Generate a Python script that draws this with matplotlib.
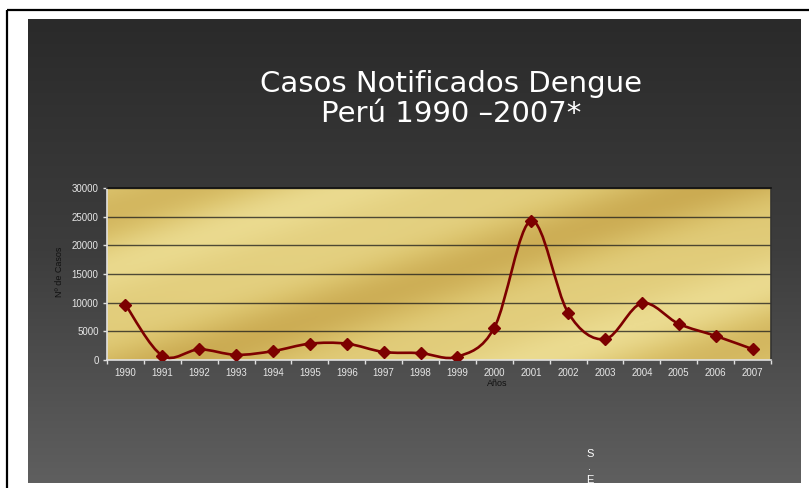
import numpy as np
import matplotlib
matplotlib.use("Agg")
import matplotlib.pyplot as plt
from matplotlib.path import Path
from matplotlib.patches import PathPatch
from matplotlib.colors import LinearSegmentedColormap

# datos: casos notificados de dengue, Peru 1990-2007
anios = ['1990', '1991', '1992', '1993', '1994', '1995', '1996', '1997', '1998',
         '1999', '2000', '2001', '2002', '2003', '2004', '2005', '2006', '2007']
casos = [9650, 750, 1850, 900, 1550, 2850, 2850, 1400, 1200,
         580, 5650, 24300, 8250, 3650, 9900, 6300, 4200, 1900]

titulo = 'Casos Notificados Dengue\nPerú 1990 \u20132007*'
y_ticks = [0, 5000, 10000, 15000, 20000, 25000, 30000]

W, H = 809, 488
fig = plt.figure(figsize=(W / 100, H / 100), dpi=100)
fig.patch.set_facecolor('white')

# ---- fondo de la diapositiva ----
bg = fig.add_axes([0, 0, 1, 1])
bg.set_xlim(0, W)
bg.set_ylim(H, 0)
bg.axis('off')
grad = np.linspace(0, 1, 256).reshape(-1, 1)
cm_bg = LinearSegmentedColormap.from_list('bg', ['#2a2a2a', '#3d3d3d', '#5f5f5f'])
bg.imshow(grad, cmap=cm_bg, aspect='auto', extent=(28, 801, 483, 19), zorder=1)
bg.plot([7, W], [10, 10], color='black', lw=1.6, zorder=2, solid_capstyle='butt')
bg.plot([7, 7], [10, H], color='black', lw=1.6, zorder=2, solid_capstyle='butt')
bg.text(451, 99, titulo, color='white', fontsize=21, ha='center', va='center',
        linespacing=1.05, family='DejaVu Sans', zorder=3)
bg.text(590, 467, 'S\n.\nE', color='white', fontsize=8, ha='center', va='center',
        linespacing=1.35, family='Liberation Sans', zorder=3)
bg.text(60, 272, 'Nº de Casos', color='#111111', fontsize=6.5, rotation=90,
        ha='center', va='center', family='Liberation Sans', zorder=3)
bg.text(497, 384, 'Años', color='#111111', fontsize=6.5, ha='center', va='center',
        family='Liberation Sans', zorder=3)

# ---- area de grafico ----
x0, x1, y0, y1 = 107, 771, 188, 360
ax = fig.add_axes([x0 / W, (H - y1) / H, (x1 - x0) / W, (y1 - y0) / H])
ax.set_facecolor('none')
n = len(anios)
xs = np.arange(n)
ax.set_xlim(-0.5, n - 0.5)
ax.set_ylim(0, 30000)

# textura dorada, franjas diagonales que suben hacia la derecha
gx, gy = np.meshgrid(np.linspace(0, 1, 400), np.linspace(0, 1, 120))
u = gy - 1.29 * gx
tex = (0.55 * np.cos(u * 5.6 - 2.2) + 0.2 * np.sin(u * 13.0 + 0.4)
       + 0.35 * gy * (1 - gx) + 0.3 * (1 - gy) * gx)
tex = (tex - tex.min()) / (tex.max() - tex.min())
cm_gold = LinearSegmentedColormap.from_list('gold', ['#cbab52', '#dcc46e', '#ebdb90'])
ax.imshow(tex, cmap=cm_gold, aspect='auto', origin='lower',
          extent=(-0.5, n - 0.5, 0, 30000), zorder=0)

for yv in y_ticks[1:]:
    ax.axhline(yv, color='#1a1a1a', lw=1.0, alpha=0.75, zorder=1)

# linea suavizada (curvas de Bezier tipo Catmull-Rom)
pts = np.column_stack([xs, casos]).astype(float)
verts = [tuple(pts[0])]
codes = [Path.MOVETO]
for i in range(n - 1):
    p0 = pts[max(i - 1, 0)]
    p1 = pts[i]
    p2 = pts[i + 1]
    p3 = pts[min(i + 2, n - 1)]
    c1 = p1 + (p2 - p0) / 6.0
    c2 = p2 - (p3 - p1) / 6.0
    verts += [tuple(c1), tuple(c2), tuple(p2)]
    codes += [Path.CURVE4] * 3
ax.add_patch(PathPatch(Path(verts, codes), facecolor='none', edgecolor='#7d0000',
                       lw=1.9, zorder=3, capstyle='round', joinstyle='round'))
ax.plot(xs, casos, linestyle='none', marker='D', markersize=6,
        color='#7d0000', zorder=4)

# ejes
ax.set_yticks(y_ticks)
ax.set_yticklabels([str(v) for v in y_ticks])
ax.set_xticks(xs)
ax.set_xticklabels(anios)
ax.set_xticks(np.arange(-0.5, n, 1.0), minor=True)
ax.tick_params(axis='x', which='major', length=0, pad=6, labelsize=7,
               labelcolor='#e6e6e6')
ax.tick_params(axis='x', which='minor', length=3, color='#e0e0e0', width=1,
               direction='out')
ax.tick_params(axis='y', length=3, color='#e0e0e0', width=1, pad=3,
               labelsize=7, labelcolor='#e6e6e6')
for lab in ax.get_xticklabels() + ax.get_yticklabels():
    lab.set_family('Liberation Sans')
ax.spines['left'].set_color('#e0e0e0')
ax.spines['bottom'].set_color('#e0e0e0')
ax.spines['top'].set_color('#111111')
ax.spines['right'].set_color('#333333')
for s in ax.spines.values():
    s.set_linewidth(1.2)

fig.savefig('out.png', dpi=100)
